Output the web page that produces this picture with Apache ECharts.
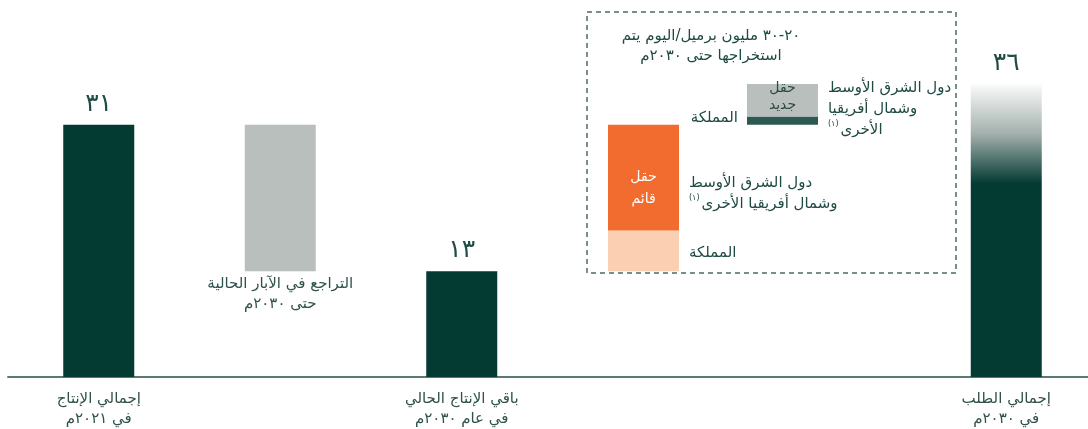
<!DOCTYPE html>
<html>
<head>
<meta charset="utf-8">
<title>oil supply and demand</title>
<script src="https://cdn.jsdelivr.net/npm/echarts@6/dist/echarts.min.js"></script>
<style>
  html, body { margin: 0; padding: 0; background: #fff; }
  #chart { width: 1088px; height: 429px; }
</style>
</head>
<body>
<div id="chart"></div>
<script>
  // main columns (two empty slots hold the inset)
  var categories = ['إجمالي الإنتاج\nفي ٢٠٢١م', 'التراجع في الآبار الحالية\nحتى ٢٠٣٠م', 'باقي الإنتاج الحالي\nفي عام ٢٠٣٠م', '', '', 'إجمالي الطلب\nفي ٢٠٣٠م']
  var baseValues = [0, 13, 0, '-', '-', 0]
  var barValues = [31, 18, 13, '-', '-', 36]
  var valueLabels = ['٣١', '', '١٣', '', '', '٣٦']

  // inset: 20-30 million barrels/day to be extracted by 2030
  var insetTitle = '٢٠-٣٠ مليون برميل/اليوم يتم\nاستخراجها حتى ٢٠٣٠م'
  var insetCategories = ['حقل\nقائم', 'حقل\nجديد']
  var insetBase = [13, 31]
  var kingdomValues = [5, 1]
  var menaValues = [13, 4]
  var kingdomName = 'المملكة'

  var FONT = 'DejaVu Sans'
  var TEXT = '#1f4a44'
  var DARK = '#033a32'

  var chart = echarts.init(document.getElementById('chart'))

  var demandGradient = new echarts.graphic.LinearGradient(0, 0, 0, 1, [
    {offset: 0, color: '#fbfbfb'},
    {offset: 0.17, color: '#a3b0ad'},
    {offset: 0.34, color: DARK},
    {offset: 1, color: DARK}
  ])
  var mainColors = [DARK, '#b8bfbc', DARK, DARK, DARK, demandGradient]

  var mainData = barValues.map(function (v, i) {
    var item = {value: v, itemStyle: {color: mainColors[i]}}
    if (i === 1) {
      // decline bar: its caption sits under the bar
      item.label = {
        show: true,
        position: 'bottom',
        distance: 3,
        formatter: categories[i],
        fontSize: 15,
        lineHeight: 20,
        color: '#2f524c'
      }
    } else {
      item.label = {
        show: true,
        position: 'top',
        distance: 8,
        formatter: valueLabels[i],
        fontSize: 25,
        color: '#1f4d46'
      }
    }
    return item
  })

  var kingdomColors = ['#fbcfb2', '#2c5a51']
  var menaColors = ['#f26c30', '#b8bfbc']

  var kingdomData = kingdomValues.map(function (v, i) {
    return {
      value: v,
      itemStyle: {color: kingdomColors[i]},
      label: i === 0
        ? {position: 'right', distance: 10, offset: [0, 2]}
        : {position: 'left', distance: 9, offset: [0, -3]}
    }
  })

  var menaRich = {
    t: {fontFamily: FONT, fontSize: 15, lineHeight: 21, color: TEXT},
    sup: {fontFamily: FONT, fontSize: 8, lineHeight: 21, color: TEXT, verticalAlign: 'top', padding: [0, 2, 4, 0]}
  }
  var menaText = [
    '{t|دول الشرق الأوسط}\n{sup|(١)}{t|وشمال أفريقيا الأخرى}',
    '{t|دول الشرق الأوسط}\n{t|وشمال أفريقيا}\n{sup|(١)}{t|الأخرى}'
  ]
  var menaData = menaValues.map(function (v, i) {
    return {
      value: v,
      itemStyle: {color: menaColors[i]},
      label: {offset: i === 0 ? [0, 16] : [0, 9]}
    }
  })

  // labels inside the field bars ride on an overlaid transparent stack
  var fieldBase = insetBase.map(function (v, i) { return v + kingdomValues[i] })
  var fieldLabelData = menaValues.map(function (v, i) {
    return {
      value: v,
      label: i === 0
        ? {color: '#ffffff', fontSize: 14, lineHeight: 22, offset: [0, 11]}
        : {color: '#2b4a45', fontSize: 14, lineHeight: 17, offset: [0, -3]}
    }
  })

  var option = {
    animation: false,
    textStyle: {fontFamily: FONT},
    title: {
      text: insetTitle,
      left: 706,
      top: 21,
      textAlign: 'center',
      textStyle: {fontFamily: FONT, fontSize: 15, lineHeight: 20, fontWeight: 'normal', color: TEXT}
    },
    graphic: [{
      type: 'rect',
      shape: {x: 587, y: 12, width: 369, height: 261},
      style: {fill: 'none', stroke: '#4d6b66', lineWidth: 1.5, lineDash: [5, 4]},
      silent: true
    }],
    grid: [
      {left: 8, right: -9, top: 84, bottom: 52, outerBoundsMode: 'none', containLabel: false},
      {left: 574, right: 236, top: 84, bottom: 52, outerBoundsMode: 'none', containLabel: false}
    ],
    xAxis: [{
      type: 'category',
      data: categories,
      gridIndex: 0,
      axisLine: {lineStyle: {color: '#5b7a75', width: 2}},
      axisTick: {show: false},
      axisLabel: {
        interval: 0,
        margin: 12,
        fontSize: 15,
        lineHeight: 20,
        color: '#2f524c',
        formatter: function (v, i) { return i === 1 ? '' : v }
      }
    }, {
      type: 'category',
      data: insetCategories,
      gridIndex: 1,
      show: false
    }],
    yAxis: [
      {type: 'value', min: 0, max: 36, gridIndex: 0, show: false},
      {type: 'value', min: 0, max: 36, gridIndex: 1, show: false}
    ],
    series: [{
      type: 'bar',
      stack: 'main',
      barWidth: 71,
      silent: true,
      itemStyle: {color: 'transparent'},
      data: baseValues
    }, {
      type: 'bar',
      stack: 'main',
      barWidth: 71,
      data: mainData
    }, {
      type: 'bar',
      xAxisIndex: 1,
      yAxisIndex: 1,
      stack: 'inset',
      barWidth: 71,
      silent: true,
      itemStyle: {color: 'transparent'},
      data: insetBase
    }, {
      type: 'bar',
      xAxisIndex: 1,
      yAxisIndex: 1,
      stack: 'inset',
      barWidth: 71,
      label: {show: true, formatter: kingdomName, fontSize: 15, color: TEXT},
      data: kingdomData
    }, {
      type: 'bar',
      xAxisIndex: 1,
      yAxisIndex: 1,
      stack: 'inset',
      barWidth: 71,
      label: {
        show: true,
        position: 'right',
        distance: 10,
        align: 'left',
        formatter: function (p) { return menaText[p.dataIndex] },
        rich: menaRich
      },
      data: menaData
    }, {
      type: 'bar',
      xAxisIndex: 1,
      yAxisIndex: 1,
      stack: 'fieldBase',
      barWidth: 71,
      barGap: '-100%',
      silent: true,
      itemStyle: {color: 'transparent'},
      data: fieldBase
    }, {
      type: 'bar',
      xAxisIndex: 1,
      yAxisIndex: 1,
      stack: 'fieldBase',
      barWidth: 71,
      barGap: '-100%',
      silent: true,
      itemStyle: {color: 'transparent'},
      label: {
        show: true,
        position: 'inside',
        formatter: function (p) { return insetCategories[p.dataIndex] }
      },
      data: fieldLabelData
    }]
  }

  chart.setOption(option)
  window.onresize = function () {
    chart.resize()
  }
</script>
</body>
</html>
